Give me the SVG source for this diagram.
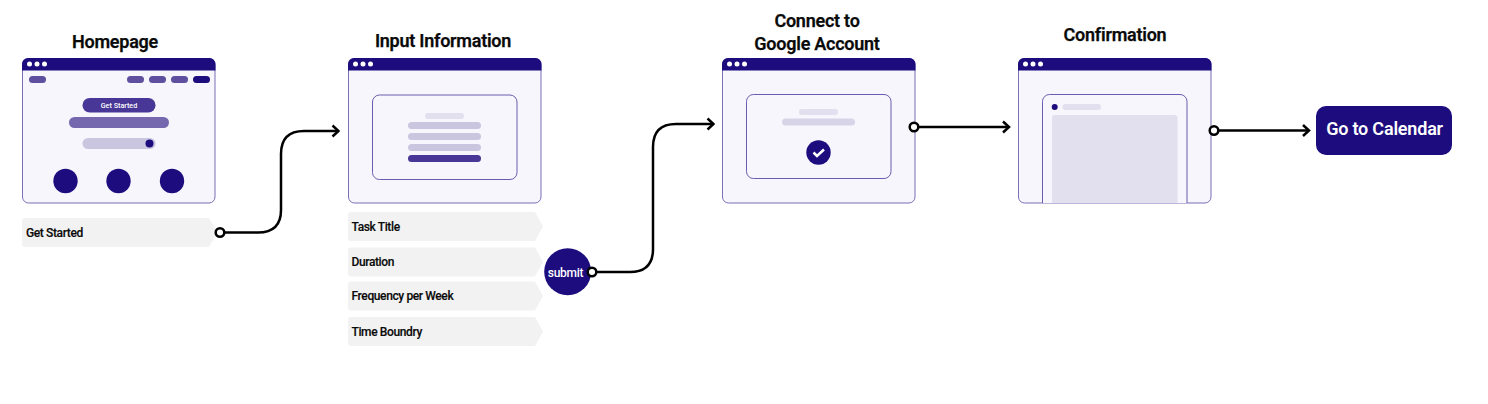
<svg xmlns="http://www.w3.org/2000/svg" width="1488" height="404" viewBox="0 0 1488 404">
<style>
text{font-family:Roboto,"Liberation Sans",sans-serif;font-weight:500;fill:#0a0a0a}
.t{font-size:18px;font-weight:600;text-anchor:middle;letter-spacing:-.25px;stroke:#0a0a0a;stroke-width:.25px}
.l{font-size:12px;letter-spacing:-.38px;stroke:#0a0a0a;stroke-width:.15px}
.frame{fill:#f7f6fc;stroke:#7b6fb5;stroke-width:1}
.inner{fill:#f7f6fc;stroke:#6a5cb0;stroke-width:1}
.bar{fill:#1d0c7e}
.dot{fill:#fff}
.tag{fill:#f2f2f2}
.c{fill:none;stroke:#000;stroke-width:2.500}
.o{fill:#fff;stroke:#000;stroke-width:2.500}
.a{fill:none;stroke:#000;stroke-width:2.500}
.d{fill:#1d0c7e}
.m{fill:#5f509f}
.p1{fill:#cbc6e0}
.p2{fill:#e2dfee}
</style>
<defs>
<g id="win">
<rect class="frame" x="0.500" y="0.500" width="192.500" height="144.500" rx="6"/>
<path class="bar" d="M0 12.500V6a6 6 0 0 1 6-6H187.500a6 6 0 0 1 6 6V12.500Z"/>
<circle class="dot" cx="7.500" cy="6" r="2.500"/><circle class="dot" cx="15" cy="6" r="2.500"/><circle class="dot" cx="22.500" cy="6" r="2.500"/>
</g>
<path id="tag" class="tag" d="M3 0H187L195 14.500L187 29H3a3 3 0 0 1-3-3V3a3 3 0 0 1 3-3Z"/>
<marker id="arr" viewBox="0 0 10 14" refX="8.500" refY="7" markerWidth="10" markerHeight="14" markerUnits="userSpaceOnUse" orient="auto"><path d="M2.500 1.500L8.500 7L2.500 12.500" class="a"/></marker>
</defs>

<g id="connectors">
<path class="c" marker-end="url(#arr)" d="M220 232.500H258Q281 232.500 281 210V154Q281 131 304 131H338.500"/>
<path class="c" marker-end="url(#arr)" d="M592 272H630Q653 272 653 249V147Q653 124 676 124H713.500"/>
<path class="c" marker-end="url(#arr)" d="M914 127H1009"/>
<path class="c" marker-end="url(#arr)" d="M1214 130.500H1309"/>
</g>

<g id="homepage">
<text class="t" x="115" y="48">Homepage</text>
<use href="#win" x="22" y="58"/>
<rect class="m" x="29" y="76" width="17" height="7" rx="3.500"/>
<rect class="m" x="127" y="76" width="17" height="7" rx="3.500"/>
<rect class="m" x="149" y="76" width="17" height="7" rx="3.500"/>
<rect class="m" x="171" y="76" width="17" height="7" rx="3.500"/>
<rect class="d" x="193" y="76" width="17" height="7" rx="3.500"/>
<rect fill="#483796" x="82.500" y="98" width="73" height="14.500" rx="7.250"/>
<text style="fill:#fff" font-size="7.200" text-anchor="middle" x="119" y="107.700">Get Started</text>
<rect fill="#7668af" x="69" y="117" width="100" height="11" rx="5.500"/>
<rect class="p1" x="82.500" y="138" width="73" height="11" rx="5.500"/>
<circle class="d" cx="149.500" cy="143.500" r="4"/>
<circle class="d" cx="65.500" cy="181" r="12.200"/><circle class="d" cx="118.500" cy="181" r="12.200"/><circle class="d" cx="172" cy="181" r="12.200"/>
</g>
<g id="get-started-tag">
<use href="#tag" x="22" y="218"/>
<text class="l" x="26" y="236.500">Get Started</text>
<circle class="o" cx="220" cy="232.500" r="4.300"/>
</g>

<g id="input-information">
<text class="t" x="443" y="47">Input Information</text>
<use href="#win" x="348" y="58"/>
<rect class="inner" x="372.500" y="95" width="144.500" height="84.500" rx="7"/>
<rect class="p2" x="425" y="113" width="39" height="6" rx="3"/>
<rect class="p1" x="408" y="122" width="73" height="7" rx="3.500"/>
<rect class="p1" x="408" y="133" width="73" height="7" rx="3.500"/>
<rect class="p1" x="408" y="144" width="73" height="7" rx="3.500"/>
<rect fill="#483796" x="408" y="155" width="73" height="7" rx="3.500"/>
</g>
<g id="task-title"><use href="#tag" x="348" y="212"/><text class="l" x="351.500" y="230.500">Task Title</text></g>
<g id="duration"><use href="#tag" x="348" y="247.500"/><text class="l" x="351.500" y="266">Duration</text></g>
<g id="frequency"><use href="#tag" x="348" y="281.500"/><text class="l" x="351.500" y="300">Frequency per Week</text></g>
<g id="time-boundry"><use href="#tag" x="348" y="317"/><text class="l" x="351.500" y="335.500">Time Boundry</text></g>
<g id="submit">
<circle class="d" cx="567.700" cy="271.700" r="23.500"/>
<text style="fill:#fff" font-size="12" letter-spacing="-.3" text-anchor="middle" x="565.500" y="277">submit</text>
<circle class="o" cx="592" cy="272" r="4.300"/>
</g>

<g id="connect-google">
<text class="t" x="817" y="27">Connect to</text>
<text class="t" x="817" y="50">Google Account</text>
<use href="#win" x="722" y="58"/>
<rect class="inner" x="746.500" y="94.500" width="144.500" height="84" rx="7"/>
<rect class="p2" x="799" y="109" width="39" height="6" rx="3"/>
<rect fill="#d8d4e8" x="782" y="118.500" width="73" height="7" rx="3.500"/>
<circle class="d" cx="818.500" cy="152.500" r="12.200"/>
<path d="M813.500 152.500L817 156L824 149.500" fill="none" stroke="#fff" stroke-width="2.500"/>
<circle class="o" cx="914" cy="127" r="4.300"/>
</g>

<g id="confirmation">
<text class="t" x="1115" y="41">Confirmation</text>
<use href="#win" x="1018" y="58"/>
<path class="inner" d="M1042.500 203V101.500a7 7 0 0 1 7-7H1180a7 7 0 0 1 7 7V203"/>
<circle class="d" cx="1054.700" cy="107" r="3"/>
<rect class="p2" x="1062.500" y="104" width="38.500" height="6" rx="3"/>
<path class="p2" d="M1052 203V118a3 3 0 0 1 3-3H1174.500a3 3 0 0 1 3 3V203Z"/>
<circle class="o" cx="1214" cy="130.500" r="4.300"/>
</g>

<g id="go-to-calendar">
<rect class="d" x="1316" y="106" width="136" height="49" rx="10"/>
<text style="fill:#fff;font-weight:600" font-size="18" text-anchor="middle" letter-spacing="-.2" x="1384.500" y="135">Go to Calendar</text>
</g>
</svg>
